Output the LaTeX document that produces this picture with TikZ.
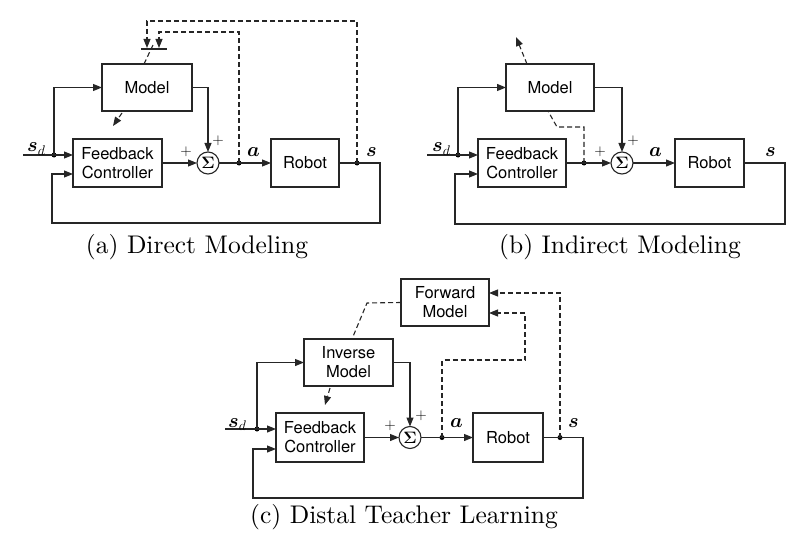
\RequirePackage{fix-cm}
\documentclass[tikz,border=0pt]{standalone}
\usepackage{amsmath}
\usepackage{fontspec}
\newfontfamily\boxfont{TeX Gyre Heros}
\newfontfamily\capfont{lmroman10-regular}[Extension=.otf]
\usetikzlibrary{arrows.meta,calc}
\tikzset{
  ln/.style={draw=black!85, line width=1.1pt},
  box/.style={ln, inner sep=0pt, outer sep=0pt, align=center, font=\boxfont\fontsize{16.5}{19}\selectfont},
  sumc/.style={ln, circle, minimum size=22pt, inner sep=0pt, outer sep=0pt, font=\fontsize{16.5}{18}\selectfont},
  arr/.style={ln, -{Triangle[length=9pt,width=7pt]}},
  dsh/.style={ln, dash pattern=on 5pt off 3pt},
  darr/.style={dsh, -{Triangle[length=9pt,width=7pt]}},
  dotn/.style={circle, fill=black, minimum size=5pt, inner sep=0pt, outer sep=0pt},
  lbl/.style={inner sep=0pt, anchor=base west, font=\fontsize{20}{24}\selectfont},
  plus/.style={inner sep=0pt, font=\fontsize{15}{18}\selectfont},
  captxt/.style={inner sep=0pt, anchor=base, font=\capfont\fontsize{25.5}{30}\selectfont},
}
\begin{document}
\begin{tikzpicture}[x=1pt,y=-1pt]
\useasboundingbox (0,0) rectangle (811,559);

% ================= (a) Direct Modeling =================
\node[box, minimum width=90pt, minimum height=47pt] (ma) at (147,87.5) {Model};
\node[box, minimum width=89pt, minimum height=48pt] (fa) at (117.5,163) {Feedback\\Controller};
\node[sumc] (sa) at (208,163) {$\boldsymbol{\Sigma}$};
\node[box, minimum width=68pt, minimum height=48pt] (ra) at (305,163) {Robot};
\node[dotn] (ada) at (239,163) {};
\node[dotn] (sda) at (357,163) {};
\node[dotn] (ina) at (54,155) {};
\coordinate (sta) at (23,155);
\coordinate (bra) at (380,223);
\coordinate (fla) at (52,174);
\coordinate (t1a) at (159,32);
\coordinate (t2a) at (147,21);
\coordinate (bara) at (154,49);

\draw[arr] (sta) -- (fa.west |- sta);
\draw[arr] (ina.center) |- (ma.west);
\draw[arr] (ma.east) -| (sa.north);
\draw[arr] (fa.east) -- (sa.west);
\draw[arr] (sa.east) -- (ra.west);
\draw[arr] (ra.east) -| (bra) -| (fla) -- (fa.west |- fla);
\draw[darr] (ada.center) |- (t1a) -- ($(t1a |- bara)+(0,-1)$);
\draw[darr] (sda.center) |- (t2a) -- ($(t2a |- bara)+(0,-1)$);
\draw[ln] ($(bara)+(-13,0)$) -- ($(bara)+(13,0)$);
\draw[dsh] ($(ma.north west)+(42,0)$) -- ($(bara)+(-1,-4)$);
\draw[darr] ($(ma.south west)+(20,2)$) -- ++(-9,13);

\node[lbl] (la1) at (27,152) {$\boldsymbol{s}_d$};
\node[lbl] (la2) at (247,157) {$\boldsymbol{a}$};
\node[lbl] (la3) at (366,157) {$\boldsymbol{s}$};
\node[plus] (pa1) at (186,152) {$+$};
\node[plus] (pa2) at (218,141) {$+$};
\node[captxt] (ca) at (197,253) {(a) Direct Modeling};

% ================= (b) Indirect Modeling =================
\node[box, minimum width=88pt, minimum height=47pt] (mb) at (550,87.5) {Model};
\node[box, minimum width=88pt, minimum height=48pt] (fb) at (522,163) {Feedback\\Controller};
\node[sumc] (sb) at (622,163) {$\boldsymbol{\Sigma}$};
\node[box, minimum width=69pt, minimum height=48pt] (rb) at (709.5,163) {Robot};
\node[dotn] (inb) at (458,155) {};
\node[dotn] (udb) at (584,163) {};
\coordinate (stb) at (427,155);
\coordinate (brb) at (785,224);
\coordinate (flb) at (455,174);
\coordinate (k1b) at (557,127);

\draw[arr] (stb) -- (fb.west |- stb);
\draw[arr] (inb.center) |- (mb.west);
\draw[arr] (mb.east) -| (sb.north);
\draw[arr] (fb.east) -- (sb.west);
\draw[arr] (sb.east) -- (rb.west);
\draw[arr] (rb.east) -| (brb) -| (flb) -- (fb.west |- flb);
\draw[dsh] (udb.center) |- (k1b) -- ($(mb.south west)+(42,0)$);
\draw[darr] ($(mb.north west)+(21,0)$) -- ++(-11,-27);

\node[lbl] (lb1) at (432,152) {$\boldsymbol{s}_d$};
\node[lbl] (lb2) at (649,157) {$\boldsymbol{a}$};
\node[lbl] (lb3) at (765,157) {$\boldsymbol{s}$};
\node[plus] (pb1) at (600,152) {$+$};
\node[plus] (pb2) at (633,141) {$+$};
\node[captxt] (cb) at (620,253) {(b) Indirect Modeling};

% ================= (c) Distal Teacher Learning =================
\node[box, minimum width=88pt, minimum height=47pt] (fm) at (445,302.5) {Forward\\Model};
\node[box, minimum width=89pt, minimum height=47pt] (im) at (348.5,362.5) {Inverse\\Model};
\node[box, minimum width=88pt, minimum height=49pt] (fc) at (320,437.5) {Feedback\\Controller};
\node[sumc] (sc) at (410,437.5) {$\boldsymbol{\Sigma}$};
\node[box, minimum width=70pt, minimum height=49pt] (rc) at (508,437.5) {Robot};
\node[dotn] (inc) at (257,429) {};
\node[dotn] (adc) at (442,437.5) {};
\node[dotn] (sdc) at (560,437.5) {};
\coordinate (stc) at (225,429);
\coordinate (brc) at (583,498);
\coordinate (flc) at (253,449);
\coordinate (k1c) at (525,360);
\coordinate (k2c) at (367,303);

\draw[arr] (stc) -- (fc.west |- stc);
\draw[arr] (inc.center) |- (im.west);
\draw[arr] (im.east) -| (sc.north);
\draw[arr] (fc.east) -- (sc.west);
\draw[arr] (sc.east) -- (rc.west);
\draw[arr] (rc.east) -| (brc) -| (flc) -- (fc.west |- flc);
\draw[darr] (adc.center) |- (k1c) |- ($(fm.east)+(0,10.5)$);
\draw[darr] (sdc.center) |- ($(fm.east)+(0,-9.5)$);
\draw[dsh] (fm.west) -- (k2c) -- ($(im.north west)+(48,0)$);
\draw[darr] ($(im.south west)+(26,2)$) -- ++(-5,17);

\node[lbl] (lc1) at (228,427) {$\boldsymbol{s}_d$};
\node[lbl] (lc2) at (450,427) {$\boldsymbol{a}$};
\node[lbl] (lc3) at (568,427) {$\boldsymbol{s}$};
\node[plus] (pc1) at (390,426) {$+$};
\node[plus] (pc2) at (421,416) {$+$};
\node[captxt] (cc) at (404,523) {(c) Distal Teacher Learning};
\end{tikzpicture}
\end{document}
